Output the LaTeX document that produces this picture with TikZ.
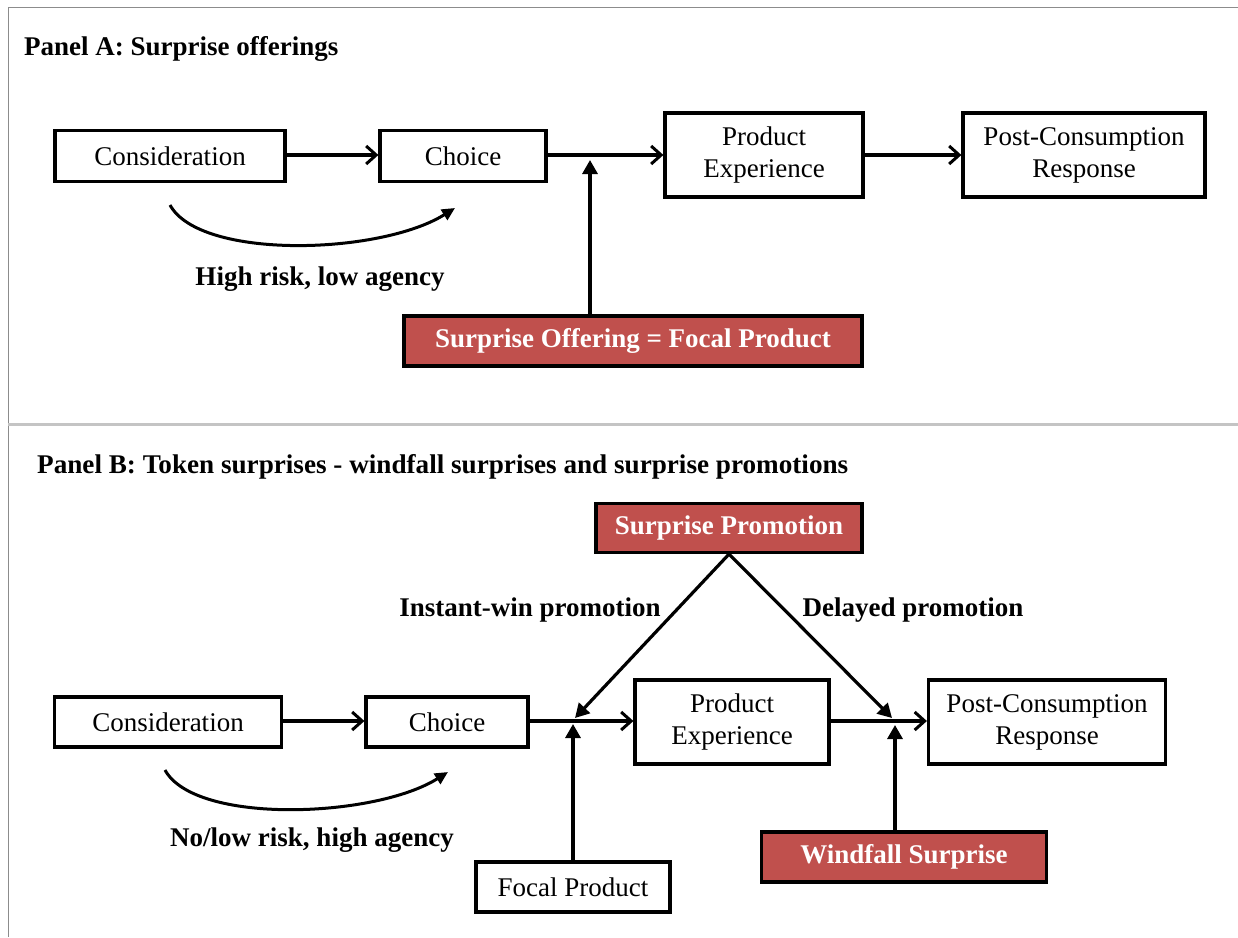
\documentclass[tikz,border=0pt]{standalone}
\usepackage{fontspec}
\setmainfont{Liberation Serif}
\usepackage{graphicx}
\usetikzlibrary{arrows.meta}
\definecolor{redbox}{HTML}{C0504D}
\definecolor{framegrey}{HTML}{8C8C8C}
\definecolor{divgrey}{HTML}{C4C4C4}
\tikzset{
  box/.style={draw=black,line width=3.2pt,fill=white,inner sep=0pt,align=center,
    font=\fontsize{27}{32}\selectfont},
  redb/.style={draw=black,line width=3.2pt,fill=redbox,inner sep=0pt,align=center,
    text=white,font=\fontsize{27}{32}\selectfont\bfseries},
  lbl/.style={inner sep=0pt,font=\fontsize{27}{32}\selectfont\bfseries},
  title/.style={inner sep=0pt,anchor=west,font=\fontsize{27}{32}\selectfont\bfseries},
  harrow/.style={line width=3.2pt,-{Straight Barb[length=10pt,width=18pt,line width=3pt]}},
  tarrow/.style={line width=3.2pt,-{Triangle[length=14pt,width=15pt]}},
  carrow/.style={line width=3pt,-{Triangle[length=13pt,width=12pt]}},
}
\begin{document}
\begin{tikzpicture}[x=1pt,y=-1pt]
\useasboundingbox (0,0) rectangle (1238,937);
% frame
\draw[framegrey,line width=1pt] (8,937) -- (8,7) -- (1238,7);
\draw[divgrey,line width=3pt] (8,424) -- (1238,424);

% ---------------- Panel A
\node[title] (ta) at (24,49) {Panel A: Surprise offerings};
\node[box,minimum width=230pt,minimum height=51pt] (a1) at (170,156) {Consideration};
\node[box,minimum width=166pt,minimum height=51pt] (a2) at (463,156) {Choice};
\node[box,minimum width=198pt,minimum height=84pt] (a3) at (764,155) {Product\\Experience};
\node[box,minimum width=242pt,minimum height=84pt] (a4) at (1084,155) {Post-Consumption\\Response};
\node[redb,minimum width=458pt,minimum height=50pt] (ar) at (633,341) {Surprise Offering = Focal Product};
\coordinate (ja) at (590,157);
\coordinate (ca1) at (170,205);
\coordinate (ca2) at (455,208);
\node[lbl] (la) at (320,279) {High risk, low agency};

\draw[harrow] (a1.east |- 0,155) -- (a2.west |- 0,155);
\draw[harrow] (a2.east |- 0,155) -- (a3.west |- 0,155);
\draw[harrow] (a3.east |- 0,155) -- (a4.west |- 0,155);
\draw[tarrow] (ar.north -| ja) -- (590,160);
\draw[carrow] (ca1) .. controls (200,260) and (380,255) .. (ca2);

% ---------------- Panel B
\node[title] (tb) at (37,467) {\resizebox{811pt}{\height}{Panel B: Token surprises - windfall surprises and surprise promotions}};
\node[redb,minimum width=266pt,minimum height=49pt] (sp) at (729,528) {Surprise Promotion};
\node[lbl] (li) at (530,610) {Instant-win promotion};
\node[lbl] (ld) at (913,610) {Delayed promotion};
\node[box,minimum width=227pt,minimum height=50pt] (b1) at (168,722) {Consideration};
\node[box,minimum width=162pt,minimum height=50pt] (b2) at (447,722) {Choice};
\node[box,minimum width=194pt,minimum height=84pt] (b3) at (732,722) {Product\\Experience};
\node[box,minimum width=237pt,minimum height=84pt] (b4) at (1047,722) {Post-Consumption\\Response};
\node[box,minimum width=194pt,minimum height=50pt] (fp) at (573,887) {Focal Product};
\node[redb,minimum width=285pt,minimum height=50pt] (ws) at (904,857) {Windfall Surprise};
\coordinate (j1) at (575,718);
\coordinate (j2) at (892,718);
\coordinate (cb1) at (165,770);
\coordinate (cb2) at (448,772);
\node[lbl] (lb) at (312,840) {No/low risk, high agency};

\draw[harrow] (b1.east |- 0,721) -- (b2.west |- 0,721);
\draw[harrow] (b2.east |- 0,721) -- (b3.west |- 0,721);
\draw[harrow] (b3.east |- 0,721) -- (b4.west |- 0,721);
\draw[tarrow] (sp.south) -- (j1);
\draw[tarrow] (sp.south) -- (j2);
\draw[tarrow] (fp.north) -- (573,724);
\draw[tarrow] (ws.north -| 895,0) -- (895,725);
\draw[carrow] (cb1) .. controls (195,825) and (375,818) .. (cb2);
\end{tikzpicture}
\end{document}
